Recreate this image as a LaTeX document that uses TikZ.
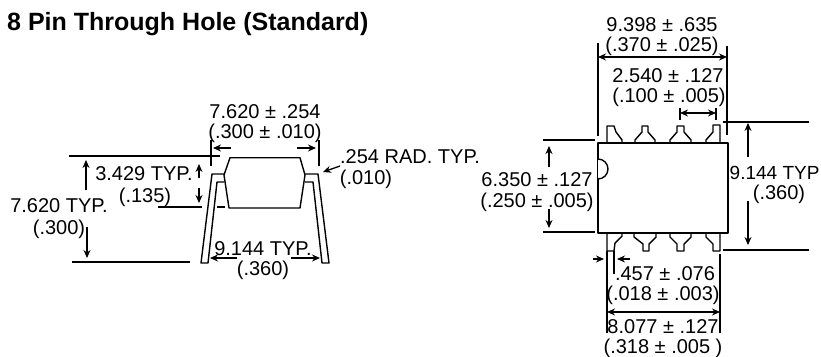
\documentclass[tikz,border=0pt]{standalone}
\usepackage{fontspec}
\setmainfont{Liberation Sans}
\usetikzlibrary{arrows.meta}
\tikzset{
  lbl/.style={anchor=base,inner sep=0pt,font=\fontsize{20}{20}\selectfont},
  edgelbl/.style={anchor=base west,inner sep=0pt,font=\fontsize{19}{20}\selectfont},
  ttl/.style={anchor=base west,inner sep=0pt,font=\fontsize{25}{26}\selectfont\bfseries},
  part/.style={line width=1.4pt,line join=round},
  dim/.style={line width=1.3pt},
  arr/.style={dim,-{Stealth[length=8pt,width=7pt]}},
  darr/.style={dim,{Stealth[length=8pt,width=7pt]}-{Stealth[length=8pt,width=7pt]}}
}
\begin{document}
\begin{tikzpicture}[x=1pt,y=-1pt]
\useasboundingbox (0,0) rectangle (821,356);
\fill[white] (0,0) rectangle (821,356);
% title
\node[ttl] (title) at (7,30) {8 Pin Through Hole (Standard)};
% side view body and leads
\draw[part] (230,157.7) -- (300,157.7) -- (305,175) -- (300,208) -- (229,208) -- (224,175) -- cycle;
\draw[part] (224,174) -- (212,174) -- (201,263) -- (208,263) -- (217,182) -- (224,182);
\draw[part] (305,174) -- (318,174) -- (329,263) -- (322,263) -- (313,182) -- (305,182);
% side view dims
\draw[dim] (69,156) -- (220,156);
\draw[dim] (211,140) -- (211,166);
\draw[dim] (319,140) -- (319,166);
\draw[arr] (231,148) -- (213,148);
\draw[arr] (297,148) -- (316,148);
\draw[arr] (340,166) -- (323,172);
\draw[arr] (237,258) -- (210,258);
\draw[arr] (291,258) -- (320,258);
\draw[arr] (86,190) -- (86,160);
\draw[arr] (87,227) -- (87,258);
\draw[dim] (72,262) -- (190,262);
\draw[arr] (199,178) -- (199,164);
\draw[arr] (199,188) -- (199,203);
\draw[dim] (158,207) -- (202,207);
\draw[dim] (217,207) -- (225,207);
% side view labels
\node[lbl] (a1) at (265,118) {7.620 ± .254};
\node[lbl] (a2) at (265,138) {(.300 ± .010)};
\node[lbl] (b1) at (144,180) {3.429 TYP.};
\node[lbl] (b2) at (145,202) {(.135)};
\node[lbl] (c1) at (59,212) {7.620 TYP.};
\node[lbl] (c2) at (59,234) {(.300)};
\node[lbl] (d1) at (263,255) {9.144 TYP.};
\node[lbl] (d2) at (263,275) {(.360)};
\node[lbl] (e1) at (410,163) {.254 RAD. TYP.};
\node[lbl] (e2) at (366,184) {(.010)};
% top view body
\draw[part] (598,143) rectangle (728,233);
\draw[part,fill=white] (598,179) arc[start angle=-90,end angle=90,radius=10,y radius=-10];
% top pins
\draw[part] (607,143) -- (607,126) -- (614,126) -- (616,132) -- (622,140) -- (622,143);
\draw[part] (635,143) -- (635,140) -- (642,132) -- (642,126) -- (648,126) -- (648,132) -- (655,140) -- (655,143);
\draw[part] (670,143) -- (670,140) -- (677,132) -- (677,126) -- (684,126) -- (684,132) -- (691,140) -- (691,143);
\draw[part] (706,143) -- (706,140) -- (713,132) -- (713,125) -- (720,125) -- (720,143);
% bottom pins
\draw[part] (607,233) -- (607,251) -- (614,251) -- (615,243) -- (622,236) -- (622,233);
\draw[part] (634,233) -- (634,237) -- (643,244) -- (643,251) -- (649,251) -- (649,244) -- (656,237) -- (656,233);
\draw[part] (670,233) -- (670,237) -- (677,244) -- (677,251) -- (684,251) -- (684,244) -- (691,237) -- (691,233);
\draw[part] (706,233) -- (706,237) -- (713,244) -- (713,251) -- (720,251) -- (720,233);
% top dims
\draw[dim] (598,43) -- (598,136);
\draw[dim] (727,46) -- (727,135);
\draw[darr] (598,57) -- (727,57);
\draw[dim] (680,108) -- (680,120);
\draw[dim] (716,108) -- (716,120);
\draw[darr] (680,113) -- (716,113);
\draw[dim] (723,122) -- (809,122);
\draw[arr] (748,157) -- (748,123);
\draw[arr] (748,201) -- (748,245);
\draw[dim] (723,250) -- (809,250);
\draw[dim] (543,140) -- (595,140);
\draw[dim] (543,232) -- (595,232);
\draw[arr] (549,167) -- (549,146);
\draw[arr] (549,209) -- (549,228);
% bottom dims
\draw[dim] (607,251) -- (607,333);
\draw[dim] (720,254) -- (720,333);
\draw[darr] (607,312) -- (720,312);
\draw[dim] (614,251) -- (614,274);
\draw[arr] (593,259) -- (604,259);
\draw[arr] (630,259) -- (617,259);
% top view labels
\node[lbl] (f1) at (662,31) {9.398 ± .635};
\node[lbl] (f2) at (662,51) {(.370 ± .025)};
\node[lbl] (g1) at (668,82) {2.540 ± .127};
\node[lbl] (g2) at (669,102) {(.100 ± .005)};
\node[edgelbl] (h1) at (729.5,179) {9.144 TYP};
\node[lbl] (h2) at (779,199) {(.360)};
\node[lbl] (i1) at (537,186) {6.350 ± .127};
\node[lbl] (i2) at (537,207) {(.250 ± .005)};
\node[lbl] (j1) at (665,280) {.457 ± .076};
\node[lbl] (j2) at (663,300) {(.018 ± .003)};
\node[lbl] (k1) at (663,333) {8.077 ± .127};
\node[lbl] (k2) at (663,353) {(.318 ± .005 )};
\end{tikzpicture}
\end{document}
